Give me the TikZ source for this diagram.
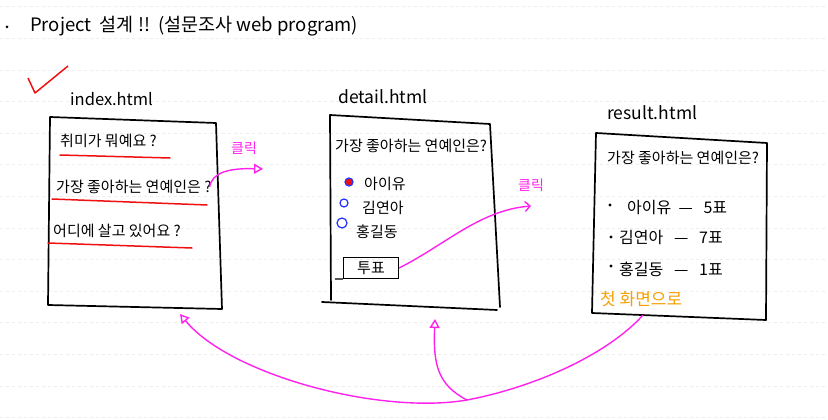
\documentclass[tikz,border=0pt]{standalone}
\usepackage{fontspec}
\setmainfont{Noto Sans CJK KR}
\usetikzlibrary{arrows.meta}
\definecolor{mag}{HTML}{FF22EE}
\definecolor{penred}{HTML}{F01010}
\definecolor{penorange}{HTML}{F5A000}
\definecolor{penblue}{HTML}{2233FF}
\definecolor{gridc}{HTML}{EDEDED}
\begin{document}
\begin{tikzpicture}[x=1pt,y=-1pt,
 txt/.style={inner sep=0pt, anchor=west, font=\fontsize{15}{17}\selectfont},
 lbl/.style={inner sep=0pt, anchor=west, font=\fontsize{17.5}{19}\selectfont},
 box/.style={draw=black, line width=1.7pt, line join=round, line cap=round},
 uline/.style={draw=penred, line width=1.5pt, line cap=round},
 conn/.style={draw=mag, line width=1.4pt},
 opentip/.style={-{Triangle[open,length=9pt,width=10pt,line width=1.4pt]}},
 barbtip/.style={-{Straight Barb[length=5pt,width=10pt]}},
 clk/.style={inner sep=0pt, text=mag, font=\fontsize{14}{15}\selectfont},
 radio/.style={draw=penblue, line width=1.2pt},
]
\useasboundingbox[fill=white] (0,0) rectangle (828,420);
\foreach \yy in {6.7,38.3,...,420} \draw[gridc, dashed, line width=0.6pt] (0,\yy)--(828,\yy);

% title
\fill (7,27) circle (1.5);
\node[inner sep=0pt, anchor=west, font=\fontsize{18.5}{20}\selectfont] (title) at (30,26) {Project\ \ 설계 !!\ \ (설문조사 web program)};

% check mark
\draw[penred, line width=1.5pt, line join=round] (28,78)--(35,93)--(68,66);

% index.html
\node[lbl, font=\fontsize{16.5}{18}\selectfont] (idxlbl) at (70,99) {index.html};
\draw[box] (50,117)--(216,123)--(222,309)--(48,305)--cycle;
\node[txt] (q1) at (60,141) {취미가 뭐예요 ?};
\draw[uline] (60,155)--(170,158);
\node[txt] (q2) at (56,187) {가장 좋아하는 연예인은 ?};
\draw[uline] (52,199)--(207,205);
\node[txt] (q3) at (53,231) {어디에 살고 있어요 ?};
\draw[uline] (48,243)--(192,248);
\node[clk] (clk1) at (244,148) {클릭};
\coordinate (c1end) at (263,169);
\draw[conn, opentip] (q2.east) ++(-2,0) .. controls (212,172) and (230,168) .. (c1end);

% detail.html
\node[lbl] (detlbl) at (338,97) {detail.html};
\draw[box] (330,115)--(490,124)--(500,307);
\draw[box] (330,115)--(331,300);
\draw[box] (322,302)--(497,310);
\node[txt] (dq) at (335,146) {가장 좋아하는 연예인은?};
\draw[radio, fill=penred] (349,182) circle (4);
\draw[radio] (344,203) circle (4);
\draw[radio] (342,223) circle (5);
\node[txt] (o1) at (364,184) {아이유};
\node[txt] (o2) at (362,208) {김연아};
\node[txt] (o3) at (356,232) {홍길동};
\node[draw, line width=1.2pt, inner sep=0pt, minimum width=55pt, minimum height=21pt, font=\fontsize{15}{17}\selectfont] (vote) at (371,268) {투표};
\draw[line width=1.2pt] (335,279)--(vote.south west);
\node[clk] (clk2) at (531,185) {클릭};
\coordinate (c2end) at (531,206);
\draw[conn, barbtip] (vote.east) .. controls (445,245) and (480,210) .. (c2end);

% result.html
\node[lbl] (reslbl) at (607,113) {result.html};
\draw[box] (596,133)--(767,143)--(766,320)--(592,313)--cycle;
\node[txt] (rq) at (607,158) {가장 좋아하는 연예인은?};
\fill (610,205) circle (1.6);
\fill (611,237) circle (1.6);
\fill (611,266) circle (1.6);
\node[txt, font=\fontsize{16}{18}\selectfont] (r1) at (627,208) {아이유\ \ —\ \ \ 5표};
\node[txt, font=\fontsize{16}{18}\selectfont] (r2) at (619,238) {김연아\ \ \ —\ \ \ 7표};
\node[txt, font=\fontsize{16}{18}\selectfont] (r3) at (619,269) {홍길동\ \ \ —\ \ \ 1표};
\node[inner sep=0pt, anchor=west, text=penorange, font=\fontsize{17}{19}\selectfont] (home) at (600,299) {첫 화면으로};

% return arrows
\coordinate (start) at (643,315);
\coordinate (j) at (467,400);
\coordinate (idxb) at (180,314);
\coordinate (detb) at (435,319);
\draw[conn] (start) .. controls (610,352) and (540,386) .. (j);
\draw[conn, opentip] (j) .. controls (380,415) and (230,375) .. (idxb);
\draw[conn, opentip] (j) .. controls (438,385) and (433,365) .. (detb);
\end{tikzpicture}
\end{document}
